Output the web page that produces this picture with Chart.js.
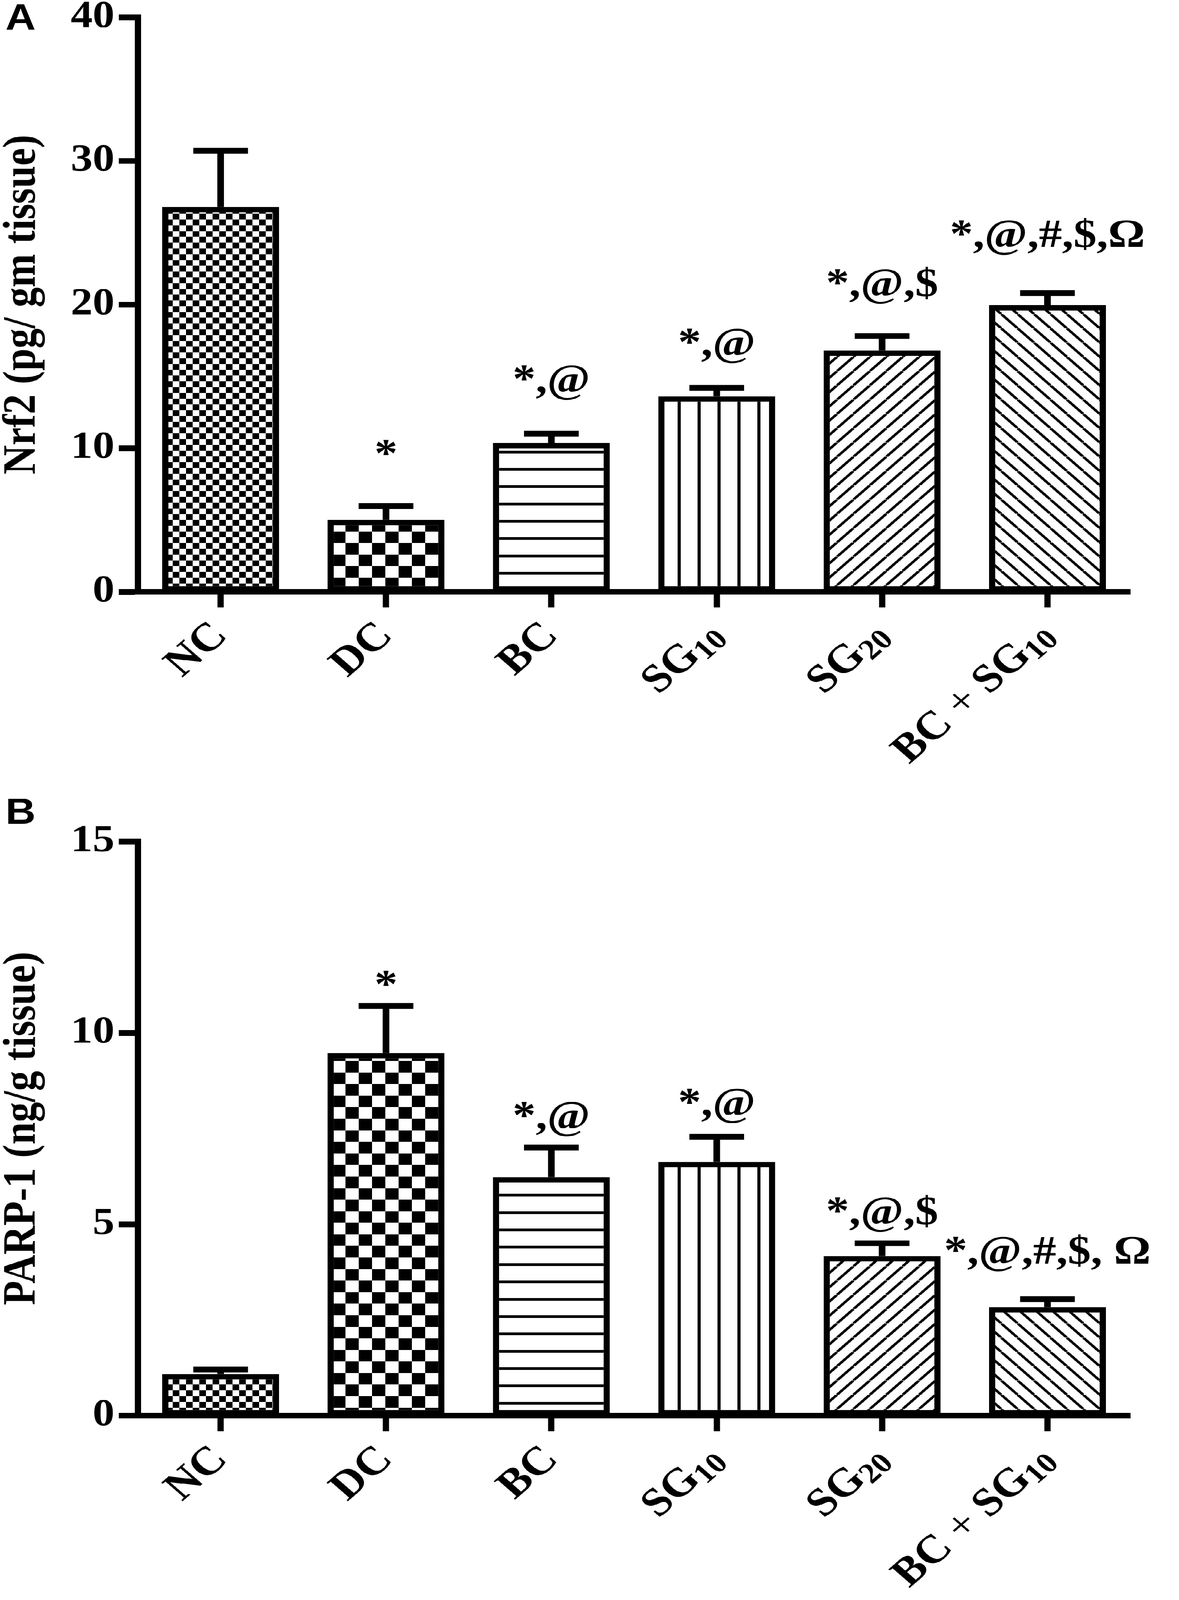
<!DOCTYPE html>
<html>
<head>
<meta charset="utf-8">
<script src="https://cdn.jsdelivr.net/npm/chart.js@4.4.1/dist/chart.umd.min.js"></script>
<style>
    html, body { margin: 0; background: #fff; overflow: hidden; }
    #figura { width: 3017px; height: 4708px; transform-origin: 0 0; }
    canvas { display: block; }
</style>
</head>
<body>
<div id="figura">
    <canvas id="graficoNrf2" width="3017" height="2340"></canvas>
    <canvas id="graficoParp" width="3017" height="2368"></canvas>
</div>
<script>
// Grupos del estudio (los digitos se dibujan como subindice)
const grupos = ['NC', 'DC', 'BC', 'SG10', 'SG20', 'BC + SG10'];

// Panel A: Nrf2 (pg/ gm tissue)
const nrf2Media = [26.8, 5.0, 10.35, 13.6, 16.8, 19.95];
const nrf2Superior = [30.7, 5.95, 11.0, 14.2, 17.8, 20.8];
const nrf2Marcas = ['', '*', '*,@', '*,@', '*,@,$', '*,@,#,$,Ω'];
const nrf2MarcaEn = [null, 8.7, 13.9, 16.45, 20.6, 24.0];
const nrf2Ticks = [0, 10, 20, 30, 40];

// Panel B: PARP-1 (ng/g tissue)
const parpMedia = [1.08, 9.47, 6.23, 6.63, 4.17, 2.83];
const parpSuperior = [1.2, 10.7, 7.0, 7.28, 4.5, 3.04];
const parpMarcas = ['', '*', '*,@', '*,@', '*,@,$', '*,@,#,$, Ω'];
const parpMarcaEn = [null, 10.92, 7.5, 7.84, 5.0, 3.97];
const parpTicks = [0, 5, 10, 15];

const SERIF = '"Liberation Serif", "Times New Roman", serif';

// La ventana puede ser mas baja que la figura: se ajusta entera al visor
function ajustarFigura() {
    const fig = document.getElementById('figura');
    const sx = Math.min(1, window.innerWidth / 3017);
    const sy = Math.min(1, window.innerHeight / 4708);
    fig.style.transform = `scale(${sx}, ${sy})`;
}

// Tramas de relleno de cada barra
function crearTrama(tipo) {
    const c = document.createElement('canvas');
    const g = c.getContext('2d');
    if (tipo === 'cuadrosFinos' || tipo === 'cuadrosGrandes') {
        const t = tipo === 'cuadrosFinos' ? 17 : 34;
        c.width = c.height = t * 2;
        g.fillStyle = '#fff';
        g.fillRect(0, 0, t * 2, t * 2);
        g.fillStyle = '#000';
        g.fillRect(t, 0, t, t);
        g.fillRect(0, t, t, t);
    } else if (tipo === 'horizontal') {
        c.width = 51; c.height = 51;
        g.fillStyle = '#fff';
        g.fillRect(0, 0, 51, 51);
        g.fillStyle = '#000';
        g.fillRect(0, 0, 51, 8);
    } else if (tipo === 'vertical') {
        c.width = 51; c.height = 51;
        g.fillStyle = '#fff';
        g.fillRect(0, 0, 51, 51);
        g.fillStyle = '#000';
        g.fillRect(0, 0, 8, 51);
    } else {
        const s = 42;
        c.width = c.height = s;
        g.fillStyle = '#fff';
        g.fillRect(0, 0, s, s);
        g.strokeStyle = '#000';
        g.lineWidth = 7;
        g.beginPath();
        for (let k = -1; k <= 1; k++) {
            if (tipo === 'diagonal') {
                g.moveTo(k * s, s);
                g.lineTo(k * s + s, 0);
            } else {
                g.moveTo(k * s, 0);
                g.lineTo(k * s + s, s);
            }
        }
        g.stroke();
    }
    return g.createPattern(c, 'repeat');
}

const tramas = ['cuadrosFinos', 'cuadrosGrandes', 'horizontal', 'vertical', 'diagonal', 'contraDiagonal'].map(crearTrama);

// Barras de error (solo hacia arriba) y marcas de significancia
const pluginError = {
    id: 'barrasError',
    afterDatasetsDraw(chart, args, opts) {
        const { ctx, scales: { x, y } } = chart;
        ctx.save();
        ctx.strokeStyle = '#000';
        ctx.lineWidth = 17;
        opts.superior.forEach((v, i) => {
            const cx = x.getPixelForValue(i);
            const yTop = y.getPixelForValue(v);
            const yBar = y.getPixelForValue(opts.media[i]);
            ctx.beginPath();
            ctx.moveTo(cx, yBar);
            ctx.lineTo(cx, yTop);
            ctx.moveTo(cx - 70, yTop);
            ctx.lineTo(cx + 70, yTop);
            ctx.stroke();
        });
        ctx.fillStyle = '#000';
        ctx.font = 'bold 118px ' + SERIF;
        ctx.textAlign = 'center';
        ctx.textBaseline = 'alphabetic';
        opts.marcas.forEach((m, i) => {
            if (!m) return;
            ctx.fillText(m, x.getPixelForValue(i), y.getPixelForValue(opts.marcaEn[i]));
        });
        ctx.restore();
    }
};

// Etiquetas del eje x giradas 45 grados con subindices
const pluginEtiquetas = {
    id: 'etiquetasX',
    afterDraw(chart, args, opts) {
        const { ctx, chartArea, scales: { x } } = chart;
        ctx.save();
        ctx.fillStyle = '#000';
        ctx.textAlign = 'left';
        ctx.textBaseline = 'middle';
        grupos.forEach((g, i) => {
            const partes = g.split(/(\d+| \+ )/).filter(p => p).map(p => {
                if (/^\d+$/.test(p)) return { t: p, f: 'bold 84px ' + SERIF, dy: 24 };
                if (p === ' + ') return { t: p, f: 'normal 118px ' + SERIF, dy: 0 };
                return { t: p, f: 'bold 118px ' + SERIF, dy: 0 };
            });
            let total = 0;
            partes.forEach(p => { ctx.font = p.f; p.w = ctx.measureText(p.t).width; total += p.w; });
            ctx.save();
            ctx.translate(x.getPixelForValue(i), chartArea.bottom + 112);
            ctx.rotate(-Math.PI / 4);
            let px = -total;
            partes.forEach(p => {
                ctx.font = p.f;
                ctx.fillText(p.t, px, p.dy);
                px += p.w;
            });
            ctx.restore();
        });
        // Letra del panel
        ctx.font = 'bold 107px "Liberation Sans", Arial, sans-serif';
        ctx.textBaseline = 'alphabetic';
        ctx.fillText(opts.letra, 14, opts.letraY);
        ctx.restore();
    }
};

function dibujarPanel(id, media, superior, marcas, marcaEn, ticks, titulo, letra, letraY, arriba, abajo) {
    const canvas = document.getElementById(id);
    const alto = canvas.height;

    new Chart(canvas.getContext('2d'), {
        type: 'bar',
        data: {
            labels: grupos,
            datasets: [{
                data: media,
                backgroundColor: tramas,
                borderColor: '#000',
                borderWidth: 16,
                borderSkipped: false,
                barPercentage: 0.707,
                categoryPercentage: 1.0
            }]
        },
        options: {
            responsive: false,
            animation: false,
            devicePixelRatio: 1,
            layout: { padding: { top: arriba, right: 125, left: 0, bottom: 0 } },
            plugins: {
                legend: { display: false },
                tooltip: { enabled: false },
                barrasError: { media: media, superior: superior, marcas: marcas, marcaEn: marcaEn },
                etiquetasX: { letra: letra, letraY: letraY }
            },
            scales: {
                x: {
                    offset: true,
                    grid: {
                        display: true, drawOnChartArea: false, drawTicks: true, offset: false,
                        tickLength: 46, tickWidth: 16, tickColor: '#000'
                    },
                    border: { display: true, width: 16, color: '#000' },
                    ticks: { display: false },
                    afterFit(scale) {
                        scale.height = abajo;
                        scale.paddingLeft = 0;
                        scale.paddingRight = 0;
                    }
                },
                y: {
                    min: ticks[0],
                    max: ticks[ticks.length - 1],
                    ticks: {
                        stepSize: ticks[1] - ticks[0],
                        color: '#000',
                        padding: 11,
                        font: { family: SERIF, size: 112, weight: 'bold', lineHeight: 1 }
                    },
                    grid: {
                        display: true, drawOnChartArea: false, drawTicks: true,
                        tickLength: 49, tickWidth: 17, tickColor: '#000'
                    },
                    border: { display: true, width: 16, color: '#000' },
                    title: {
                        display: true,
                        text: titulo,
                        color: '#000',
                        padding: 0,
                        font: { family: SERIF, size: 118, weight: 'bold', lineHeight: 1 }
                    },
                    afterFit(scale) {
                        scale.width = 353;
                        scale.paddingTop = 0;
                        scale.paddingBottom = 0;
                    }
                }
            }
        },
        plugins: [pluginError, pluginEtiquetas]
    });
}

document.addEventListener('DOMContentLoaded', () => {
    ajustarFigura();
    dibujarPanel('graficoNrf2', nrf2Media, nrf2Superior, nrf2Marcas, nrf2MarcaEn, nrf2Ticks,
        'Nrf2 (pg/ gm tissue)', 'A', 87, 51, 599);
    dibujarPanel('graficoParp', parpMedia, parpSuperior, parpMarcas, parpMarcaEn, parpTicks,
        'PARP-1 (ng/g tissue)', 'B', 84, 136, 543);
});
</script>
</body>
</html>
